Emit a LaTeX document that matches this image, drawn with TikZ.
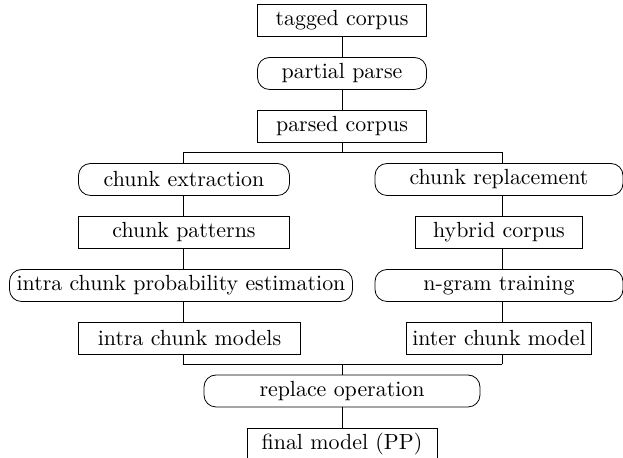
\documentclass[tikz,border=0pt]{standalone}
\usepackage{amsmath, amssymb}
\usetikzlibrary{positioning}

\begin{document}
\begin{tikzpicture}[-,x=0.5pt,y=-0.5pt,node distance=26.5pt,
                data node/.style={rectangle,draw,inner sep=0pt,outer sep=0pt,
                  minimum height=16pt,font=\fontsize{10.95}{13}\selectfont},
                step node/.style={data node,rounded corners=6pt}]

  \useasboundingbox (0,0) rectangle (623,458);

  \node[data node,minimum width=84.5pt] (tagged) at (342,20.5) {tagged corpus};
  \node[step node,minimum width=84.5pt] (partial) [below of=tagged] {partial parse};
  \node[data node,minimum width=84.5pt] (parsed) [below of=partial] {parsed corpus};

  % left branch
  \node[step node,minimum width=105.5pt] (extract) [below of=parsed,xshift=-79pt] {chunk extraction};
  \node[data node,minimum width=105.5pt] (patterns) [below of=extract] {chunk patterns};
  \node[step node,minimum width=171.5pt] (intraest) [below of=patterns,xshift=-1.5pt] {intra chunk probability estimation};
  \node[data node,minimum width=111pt] (intramod) [below of=intraest,xshift=4.25pt] {intra chunk models};

  % right branch
  \node[step node,minimum width=124pt] (replace) [below of=parsed,xshift=78.5pt] {chunk replacement};
  \node[data node,minimum width=83.5pt] (hybrid) [below of=replace] {hybrid corpus};
  \node[step node,minimum width=124pt] (ngram) [below of=hybrid] {n-gram training};
  \node[data node,minimum width=92.5pt] (intermod) [below of=ngram] {inter chunk model};

  \node[step node,minimum width=138pt] (replop) at (342,391) {replace operation};
  \node[data node,minimum width=95pt] (final) [below of=replop] {final model (PP)};

  \coordinate (ltrack) at (183,0);
  \coordinate (rtrack) at (502,0);
  \coordinate (fork) at (0,152);
  \coordinate (join) at (0,364);

  \path
    (tagged) edge (partial)
    (partial) edge (parsed)
    (parsed.south) edge (parsed.south |- fork)
    (replop) edge (final);

  \draw (ltrack |- fork) -- (rtrack |- fork);
  \draw (ltrack |- join) -- (rtrack |- join);
  \draw (replop.north |- join) -- (replop.north);

  \foreach \top/\bot in {fork/extract, extract/patterns, patterns/intraest, intraest/intramod}
    \draw (ltrack |- \top.south) -- (ltrack |- \bot.north);
  \foreach \top/\bot in {fork/replace, replace/hybrid, hybrid/ngram, ngram/intermod}
    \draw (rtrack |- \top.south) -- (rtrack |- \bot.north);
  \draw (ltrack |- intramod.south) -- (ltrack |- join);
  \draw (rtrack |- intermod.south) -- (rtrack |- join);
\end{tikzpicture}
\end{document}
